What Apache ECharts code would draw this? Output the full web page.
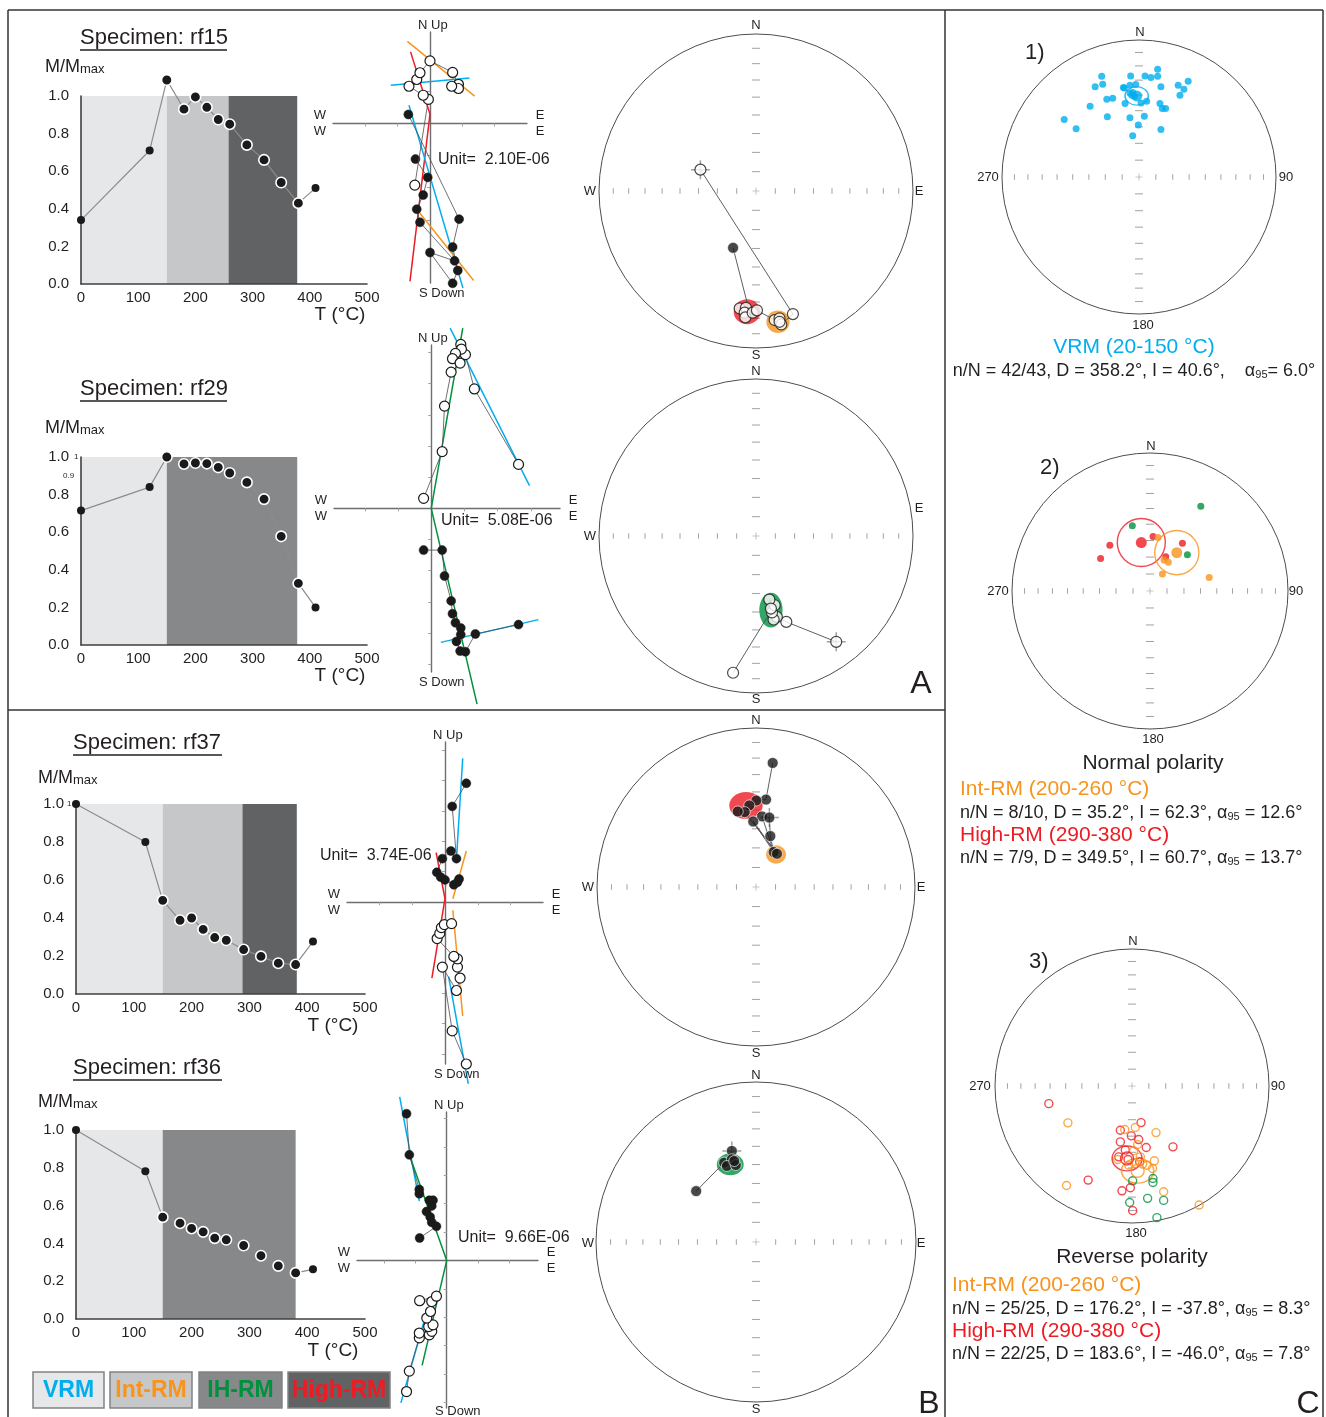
<!DOCTYPE html>
<html><head><meta charset="utf-8">
<script src="https://cdn.jsdelivr.net/npm/echarts@6/dist/echarts.min.js"></script>
<style>html,body{margin:0;padding:0;background:#fff}#c{width:1326px;height:1417px}</style>
</head><body><div id="c"></div><script>
// ===================== DATA =====================
// thermal demagnetization steps (°C)
const temps = [0,120,150,180,200,220,240,260,290,320,350,380,410];
const rf15_M = [0.34,0.71,1.085,0.93,0.995,0.94,0.875,0.85,0.74,0.66,0.54,0.43,0.51];
const rf29_M = [0.715,0.84,1.0,0.963,0.968,0.965,0.945,0.915,0.865,0.776,0.578,0.328,0.20];
const rf37_M = [1.0,0.80,0.493,0.388,0.40,0.34,0.297,0.283,0.234,0.198,0.162,0.155,0.276];
const rf36_M = [1.0,0.782,0.539,0.507,0.479,0.461,0.428,0.419,0.389,0.335,0.281,0.244,0.263];
const demagTicksT = [0,100,200,300,400,500];
const demagTicksM = [0,0.2,0.4,0.6,0.8,1.0];
// component temperature bands [from, to, component]
const rf15_bands = [[0,150,'VRM'],[150,258,'Int'],[258,378,'High']];
const rf29_bands = [[0,150,'VRM'],[150,378,'IH']];
const rf37_bands = [[0,150,'VRM'],[150,288,'Int'],[288,382,'High']];
const rf36_bands = [[0,150,'VRM'],[150,380,'IH']];

// Zijderveld diagrams (in tick units: E, N/Up)
const rf15_zFilled = [[-0.67,0.28],[0.90,-2.98],[0.70,-3.85],[0.86,-4.58],[0.70,-4.98],[0,-4.02],[0.76,-4.28],[-0.31,-3.08],[-0.41,-2.67],[-0.21,-2.23],[-0.07,-1.68],[-0.45,-1.11]];
const rf15_zOpen = [[-0.47,-1.92],[-0.05,0.75],[-0.21,0.88],[-0.65,1.16],[-0.41,1.37],[-0.31,1.58],[0,1.95],[0.70,1.59],[0.88,1.22],[0.88,1.09],[0.67,1.16]];
const rf15_zFits = [['orange',[[-0.70,2.56],[1.38,0.85]]],['blue',[[-1.21,1.19],[1.22,1.42]]],['red',[[-0.60,2.23],[0,0.29]]],['red',[[0,0.29],[-0.62,-4.92]]],['blue',[[-0.65,0.57],[1.02,-5.13]]],['orange',[[-0.41,-2.67],[1.35,-4.89]]]];
const rf15_zExt = {x:[-3.0,3.0], y:[-4.97,2.85]};

const rf29_zOpen = [[2.63,1.41],[1.30,3.83],[1.03,4.93],[0.89,5.26],[0.91,5.11],[0.73,4.97],[0.64,4.80],[0.87,4.66],[0.60,4.37],[0.40,3.28],[0.33,1.82],[-0.23,0.32]];
const rf29_zFilled = [[2.63,-3.73],[1.33,-4.03],[1.03,-4.60],[0.87,-4.58],[0.76,-4.27],[0.89,-4.05],[0.89,-3.84],[0.73,-3.67],[0.64,-3.38],[0.60,-2.97],[0.40,-2.17],[0.33,-1.34],[-0.23,-1.34]];
const rf29_zFits = [['green',[[0.95,5.78],[0,0]]],['green',[[0,0],[1.38,-6.28]]],['blue',[[0.57,5.78],[2.96,0.73]]],['blue',[[0.29,-4.30],[3.23,-3.57]]]];
const rf29_zExt = {x:[-2.93,3.88], y:[-5.25,5.24]};

const rf37_zFilled = [[0.65,3.91],[0.22,3.15],[0.35,1.43],[0.18,1.68],[-0.08,1.43],[-0.25,0.98],[-0.13,0.82],[0,0.73],[0.27,0.57],[0.38,0.65],[0.43,0.76]];
const rf37_zOpen = [[0.65,-5.33],[0.22,-4.24],[-0.08,-2.14],[0.35,-2.91],[0.46,-2.50],[0.38,-2.14],[0.38,-1.87],[0.27,-1.79],[-0.24,-1.20],[-0.16,-1.03],[-0.11,-0.84],[-0.02,-0.74],[0.20,-0.71]];
const rf37_zFits = [['blue',[[0.54,4.73],[0.35,1.41]]],['orange',[[0.65,1.68],[0.24,0.11]]],['red',[[-0.27,1.63],[0,0.11]]],['red',[[0,0.11],[-0.40,-2.50]]],['orange',[[0.24,-0.27],[0.54,-3.75]]],['blue',[[0.11,-2.45],[0.71,-5.98]]]];
const rf37_zExt = {x:[-2.99,2.99], y:[-5.33,5.27]};

const rf36_zFilled = [[-1.29,5.17],[-1.20,3.72],[-0.88,2.50],[-0.88,2.35],[-0.56,2.12],[-0.44,2.12],[-0.48,1.92],[-0.65,1.72],[-0.53,1.53],[-0.48,1.34],[-0.33,1.20],[-0.87,0.79]];
const rf36_zOpen = [[-1.29,-4.62],[-1.20,-3.90],[-0.88,-2.73],[-0.88,-2.56],[-0.56,-2.62],[-0.48,-2.50],[-0.58,-2.33],[-0.44,-2.27],[-0.64,-2.03],[-0.52,-1.80],[-0.48,-1.45],[-0.87,-1.42],[-0.33,-1.26]];
const rf36_zFits = [['blue',[[-1.51,5.76],[-0.88,2.09]]],['green',[[-1.20,3.72],[0,0]]],['green',[[0,0],[-0.79,-3.70]]],['blue',[[-0.73,-2.15],[-1.47,-5.02]]]];
const rf36_zExt = {x:[-2.88,2.93], y:[-5.2,5.23]};
const zTicksX = [-3,-2,-1,1,2,3];
const zTicksY = [-5,-4,-3,-2,-1,1,2,3,4,5];

// equal-area stereonet tick radii (10° inclination steps), projected unit-circle coordinates
const netTicks = [0.123,0.246,0.366,0.484,0.598,0.707,0.811,0.909];

// specimen stereonets (projected x=E, y=N)
const rf15_netOpen = [[-0.354,0.136],[0.235,-0.784],[-0.104,-0.748],[-0.064,-0.744],[-0.072,-0.775],[-0.068,-0.805],[-0.021,-0.775],[0.006,-0.760],[0.119,-0.822],[0.150,-0.811],[0.161,-0.850],[0.150,-0.833]];
const rf15_netFilled = [[-0.146,-0.362]];
const rf15_netPath = [[-0.354,0.136],[0.235,-0.784],[0.161,-0.850],[0.119,-0.822],[0.006,-0.760],[-0.021,-0.775],[-0.068,-0.805],[-0.072,-0.775],[-0.104,-0.748],[-0.064,-0.744],[-0.047,-0.748],[-0.146,-0.362]];
const rf15_netEll = [['red',[-0.057,-0.769],0.085,0.079],['orange',[0.140,-0.833],0.074,0.072]];
const rf15_netNRM = [[-0.354,0.136]];

const rf29_netOpen = [[0.511,-0.674],[0.193,-0.547],[0.133,-0.515],[0.112,-0.532],[0.102,-0.487],[0.119,-0.441],[0.085,-0.405],[0.095,-0.462],[-0.146,-0.871]];
const rf29_netFilled = [];
const rf29_netPath = [[0.511,-0.674],[0.193,-0.547],[0.133,-0.515],[0.112,-0.532],[0.102,-0.487],[0.119,-0.441],[0.085,-0.405],[0.095,-0.462],[0.07,-0.52],[-0.146,-0.871]];
const rf29_netEll = [['green',[0.095,-0.472],0.074,0.111]];
const rf29_netNRM = [[0.511,-0.674]];

const rf37_netOpen = [];
const rf37_netFilled = [[0.105,0.780],[0.063,0.550],[0.002,0.544],[-0.042,0.513],[-0.071,0.471],[-0.115,0.475],[0.038,0.444],[0.084,0.437],[-0.017,0.412],[0.090,0.320],[0.111,0.220],[0.132,0.209]];
const rf37_netPath = [[0.105,0.780],[0.063,0.550],[0.002,0.544],[-0.042,0.513],[-0.115,0.475],[-0.071,0.471],[0.132,0.209],[-0.017,0.412],[0.111,0.220],[0.038,0.444],[0.084,0.437],[0.090,0.320],[0.111,0.220]];
const rf37_netEll = [['red',[-0.063,0.513],0.105,0.084],['orange',[0.126,0.205],0.063,0.058]];
const rf37_netNRM = [[0.084,0.437]];

const rf36_netOpen = [];
const rf36_netFilled = [[-0.151,0.569],[-0.199,0.496],[-0.151,0.517],[-0.182,0.475],[-0.126,0.481],[-0.136,0.506],[-0.374,0.318]];
const rf36_netPath = [[-0.374,0.318],[-0.199,0.496],[-0.151,0.569]];
const rf36_netEll = [['green',[-0.161,0.485],0.084,0.068]];
const rf36_netNRM = [[-0.151,0.569]];

// site-level stereonets
const c1_VRM = [[-0.272,0.735],[-0.320,0.658],[-0.265,0.677],[-0.546,0.420],[-0.459,0.352],[-0.357,0.517],[-0.235,0.568],[-0.192,0.575],[-0.231,0.439],[-0.102,0.536],[-0.107,0.650],[-0.066,0.670],[-0.024,0.675],[-0.061,0.738],[0.044,0.738],[0.087,0.726],[0.136,0.735],[0.136,0.786],[0.160,0.658],[0.286,0.670],[0.328,0.641],[0.359,0.699],[0.299,0.597],[0.153,0.536],[0.170,0.500],[0.194,0.500],[0.056,0.553],[0.015,0.541],[0.039,0.444],[-0.066,0.432],[-0.005,0.379],[-0.046,0.301],[0.160,0.347],[-0.053,0.597],[-0.066,0.614],[-0.034,0.590],[-0.114,0.653],[-0.046,0.617]];
const c1_mean = [['blue',[-0.017,0.592],0.085,0.067]];

const c2_green = [[0.368,0.615],[-0.128,0.472],[0.271,0.262]];
const c2_red = [[-0.291,0.332],[-0.358,0.235],[0.022,0.395],[0.235,0.346],[0.114,0.249]];
const c2_orange = [[0.058,0.387],[0.102,0.225],[0.133,0.208],[0.090,0.123],[0.429,0.097]];
const c2_mean = [['red',[-0.063,0.351],0.174,0.174],['orange',[0.194,0.278],0.160,0.160]];

const c3_red = [[-0.607,-0.129],[0.066,-0.267],[-0.085,-0.323],[-0.005,-0.364],[-0.085,-0.408],[0.049,-0.391],[0.104,-0.449],[0.299,-0.444],[-0.049,-0.468],[-0.029,-0.536],[-0.320,-0.687],[-0.073,-0.765],[-0.012,-0.743],[0.005,-0.910],[-0.097,-0.517],[0.056,-0.553]];
const c3_orange = [[-0.468,-0.269],[-0.053,-0.318],[0.024,-0.303],[0.175,-0.340],[0.041,-0.427],[0.012,-0.473],[-0.104,-0.536],[0.061,-0.517],[0.163,-0.546],[-0.024,-0.578],[0.109,-0.578],[0.150,-0.602],[-0.478,-0.726],[0.231,-0.772],[0.490,-0.869],[0.078,-0.570],[0.019,-0.566]];
const c3_green = [[0.005,-0.692],[0.153,-0.675],[0.153,-0.704],[0.114,-0.820],[0.231,-0.835],[-0.017,-0.850],[0.182,-0.961]];
const c3_mean = [['red',[-0.036,-0.529],0.109,0.091],['orange',[0.041,-0.619],0.118,0.090]];

// ===================== STYLE / BUILD =====================
const FF = "'Liberation Sans', Arial, Helvetica, sans-serif";
const COL = {blue:'#00aeef', orange:'#f7941d', red:'#ed1c24', green:'#00913f'};
const TXT = '#231f20';
const BAND = {VRM:'#e6e7e8', Int:'#c6c7c8', IH:'#87888a', High:'#616264'};
const PLUS = 'path://M0,4.6h10v0.8h-10zM4.6,0h0.8v10h-0.8z';

const grids=[], xAxes=[], yAxes=[], series=[], graphics=[];
function addGrid(l,t,w,h,xa,ya){
  const i=grids.length;
  grids.push({left:l, top:t, width:w, height:h, containLabel:false});
  xa.gridIndex=i; ya.gridIndex=i; xAxes.push(xa); yAxes.push(ya); return i;
}
function S(i,o){ o.xAxisIndex=i; o.yAxisIndex=i; o.silent=true; o.animation=false; series.push(o); }
function txt(x,y,text,size,o){
  o=o||{};
  const st={text:text, x:x, y:y, font:(o.weight||'normal')+' '+size+'px '+FF, fill:o.color||TXT,
    align:o.align||'left', textAlign:o.align||'left', verticalAlign:'middle', textVerticalAlign:'middle'};
  if(o.rich) st.rich=o.rich;
  graphics.push({type:'text', z:100, silent:true, style:st});
}
function hline(x1,y1,x2,y2,w,c){
  graphics.push({type:'line', z:100, silent:true, shape:{x1:x1,y1:y1,x2:x2,y2:y2}, style:{stroke:c||'#333', lineWidth:w||1}});
}
const subRich = (big, small) => ({m:{font:big+'px '+FF, fill:TXT}, s:{font:small+'px '+FF, fill:TXT, verticalAlign:'bottom', padding:[0,0,0,0]}});

// ---------- demag plot ----------
function demag(l,t,w,h,M,bands){
  const axisBase = {type:'value', z:3, splitLine:{show:false}, axisTick:{show:false},
    axisLine:{show:true, lineStyle:{color:'#404041', width:1.6}}};
  const i = addGrid(l,t,w,h,
    Object.assign({}, axisBase, {min:demagTicksT[0], max:demagTicksT[demagTicksT.length-1], interval:100,
      axisLabel:{color:TXT, fontSize:15, fontFamily:FF, margin:6}}),
    Object.assign({}, axisBase, {min:demagTicksM[0], max:demagTicksM[demagTicksM.length-1], interval:0.2,
      axisLabel:{color:TXT, fontSize:15, fontFamily:FF, margin:12, formatter:v=>v.toFixed(1)}}));
  S(i,{type:'line', z:1, data:[[0,0]], symbol:'none', lineStyle:{opacity:0},
    markArea:{silent:true, data:bands.map(b=>[{xAxis:b[0], yAxis:0, itemStyle:{color:BAND[b[2]], opacity:1}},{xAxis:b[1], yAxis:1}])}});
  S(i,{type:'line', z:5, clip:false, symbol:'circle', symbolSize:8, lineStyle:{color:'#8c8c8c', width:1.2},
    itemStyle:{color:'#1a1a1a'},
    data: temps.map((tt,k)=>({value:[tt,M[k]], symbolSize:(tt>=150&&tt<=380)?10.5:8,
      itemStyle:(tt>=150&&tt<=380)?{color:'#1a1a1a',borderColor:'#fff',borderWidth:1.6}:{color:'#1a1a1a',borderWidth:0}}))});
}

// ---------- Zijderveld ----------
function zijd(l,r,t,b,ext,filled,open,fits){
  const ax = (mn,mx,tk)=>({type:'value', min:mn, max:mx, z:2, splitLine:{show:false}, axisLabel:{show:false},
    axisLine:{show:true, onZero:true, lineStyle:{color:'#6d6e71', width:1.4}},
    axisTick:{show:true, length:3, lineStyle:{color:'#a0a0a0'}, customValues:tk.filter(v=>v>mn&&v<mx)}});
  const i = addGrid(l,t,r-l,b-t, ax(ext.x[0],ext.x[1],zTicksX), ax(ext.y[0],ext.y[1],zTicksY));
  fits.forEach(f=>S(i,{type:'line', z:4, clip:false, symbol:'none', data:f[1], lineStyle:{color:COL[f[0]], width:1.5}}));
  S(i,{type:'line', z:5, clip:false, data:filled, symbol:'circle', symbolSize:9, lineStyle:{color:'#4d4d4f', width:0.8},
    itemStyle:{color:'#1a1a1a', borderColor:'#1a1a1a', borderWidth:0.5}});
  S(i,{type:'line', z:6, clip:false, data:open, symbol:'circle', symbolSize:10, lineStyle:{color:'#4d4d4f', width:0.8},
    itemStyle:{color:'#ffffff', borderColor:'#1a1a1a', borderWidth:1.2}});
  return i;
}
function zLabels(ax, ay, l, r, top, bot, unitX, unitY, unit){
  txt(ax-12, top-7, 'N Up', 13);
  txt(ax-11, bot+10, 'S Down', 13);
  txt(l-13, ay-8, 'W', 13, {align:'center'}); txt(l-13, ay+8, 'W', 13, {align:'center'});
  txt(r+13, ay-8, 'E', 13, {align:'center'}); txt(r+13, ay+8, 'E', 13, {align:'center'});
  txt(unitX, unitY, 'Unit=  '+unit, 16);
}

// ---------- stereonet ----------
function net(cx,cy,R,lab,o){
  o=o||{};
  const ax = {type:'value', min:-1, max:1, show:false};
  const i = addGrid(cx-R, cy-R, 2*R, 2*R, Object.assign({},ax), Object.assign({},ax));
  graphics.push({type:'circle', z:1, silent:true, shape:{cx:cx, cy:cy, r:R}, style:{fill:'none', stroke:'#4d4d4f', lineWidth:1}});
  const ew=[], ns=[];
  netTicks.forEach(r=>{ ew.push([r,0],[-r,0]); ns.push([0,r],[0,-r]); });
  S(i,{type:'scatter', z:2, symbol:'rect', symbolSize:[1,5.5], itemStyle:{color:'#8a8a8a'}, data:ew});
  S(i,{type:'scatter', z:2, symbol:'rect', symbolSize:[8,1], itemStyle:{color:'#8a8a8a'}, data:ns});
  S(i,{type:'scatter', z:2, symbol:PLUS, symbolSize:7, itemStyle:{color:'#7a7a7a'}, data:[[0,0]]});
  const fs = o.fs||13;
  lab.forEach(L=>txt(L[0], L[1], L[2], fs, {align:'center'}));
  return i;
}
function ellipses(i,R,list,fill){
  list.forEach(e=>S(i,{type:'scatter', z:3, symbol:'circle', symbolSize:[2*e[2]*R, 2*e[3]*R], data:[e[1]],
    itemStyle: fill?{color:COL[e[0]]}:{color:'rgba(0,0,0,0)', borderColor:COL[e[0]], borderWidth:1.4}}));
}
function specNet(cx,cy,R,lab,open,filled,path,ell,nrm){
  const i = net(cx,cy,R,lab);
  ellipses(i,R,ell,true);
  S(i,{type:'scatter', z:4, symbol:PLUS, symbolSize:19, itemStyle:{color:'#8a8a8a'}, data:nrm});
  S(i,{type:'line', z:5, symbol:'none', data:path, lineStyle:{color:'#4d4d4f', width:0.9}});
  S(i,{type:'scatter', z:6, symbol:'circle', symbolSize:11, data:filled, itemStyle:{color:'#1a1a1a', borderColor:'#ffffff', borderWidth:0.8}});
  S(i,{type:'scatter', z:7, symbol:'circle', symbolSize:11, data:open, itemStyle:{color:'#ffffff', borderColor:'#1a1a1a', borderWidth:1.2}});
}

// ===================== LAYOUT =====================
demag(81,96,286,188,rf15_M,rf15_bands);
demag(81,457,286,188,rf29_M,rf29_bands);
demag(76,804,289,190,rf37_M,rf37_bands);
demag(76,1130,289,189,rf36_M,rf36_bands);
[[80,38,227,'rf15',45,67,340,315],[80,389,227,'rf29',45,428,340,676],[73,743,222,'rf37',38,778,333,1026],[73,1068,222,'rf36',38,1102,333,1351]].forEach(p=>{
  txt(p[0], p[1], 'Specimen: '+p[3], 22);
  hline(p[0], p[1]+12, p[2], p[1]+12, 1.3, '#231f20');
  txt(p[4], p[5], '{m|M/M}{s|max}', 18, {rich:subRich(18,13)});
  txt(p[6], p[7], 'T (°C)', 19, {align:'center'});
});
txt(74,457,'1',8); txt(63,476,'0.9',8); txt(67,804,'1',8);

zijd(333,527,32,283,rf15_zExt,rf15_zFilled,rf15_zOpen,rf15_zFits);
zLabels(430,123,333,527,32,283,438,160,'2.10E-06');
zijd(334,560,345,672,rf29_zExt,rf29_zFilled,rf29_zOpen,rf29_zFits);
zLabels(430,508,334,560,345,672,441,521,'5.08E-06');
zijd(347,543,742,1064,rf37_zExt,rf37_zFilled,rf37_zOpen,rf37_zFits);
zLabels(445,902,347,543,742,1064,320,856,'3.74E-06');
zijd(357,538,1112,1408,rf36_zExt,rf36_zFilled,rf36_zOpen,rf36_zFits);
zLabels(446,1260,357,538,1112,1401,458,1238,'9.66E-06');

specNet(756,191,157,[[756,25,'N'],[756,355,'S'],[590,191,'W'],[919,191,'E']],rf15_netOpen,rf15_netFilled,rf15_netPath,rf15_netEll,rf15_netNRM);
specNet(756,536,157,[[756,371,'N'],[756,699,'S'],[590,536,'W'],[919,508,'E']],rf29_netOpen,rf29_netFilled,rf29_netPath,rf29_netEll,rf29_netNRM);
specNet(756,887,159,[[756,720,'N'],[756,1053,'S'],[588,887,'W'],[921,887,'E']],rf37_netOpen,rf37_netFilled,rf37_netPath,rf37_netEll,rf37_netNRM);
specNet(756,1242,160,[[756,1075,'N'],[756,1409,'S'],[588,1243,'W'],[921,1243,'E']],rf36_netOpen,rf36_netFilled,rf36_netPath,rf36_netEll,rf36_netNRM);

(function(){
  const R1=137, i1 = net(1139,177,R1,[[1140,32,'N'],[1143,325,'180'],[988,177,'270'],[1286,177,'90']]);
  S(i1,{type:'scatter', z:5, symbol:'circle', symbolSize:7, data:c1_VRM, itemStyle:{color:COL.blue}});
  ellipses(i1,R1,c1_mean,false);
  S(i1,{type:'scatter', z:6, symbol:'circle', symbolSize:11, data:c1_mean.map(e=>e[1]), itemStyle:{color:COL.blue}});
  txt(1025,53,'1)',22);

  const R2=138, i2 = net(1150,591,R2,[[1151,446,'N'],[1153,739,'180'],[998,591,'270'],[1296,591,'90']]);
  S(i2,{type:'scatter', z:5, symbol:'circle', symbolSize:7, data:c2_green, itemStyle:{color:COL.green}});
  S(i2,{type:'scatter', z:5, symbol:'circle', symbolSize:7, data:c2_red, itemStyle:{color:COL.red}});
  S(i2,{type:'scatter', z:5, symbol:'circle', symbolSize:7, data:c2_orange, itemStyle:{color:COL.orange}});
  ellipses(i2,R2,c2_mean,false);
  c2_mean.forEach(e=>S(i2,{type:'scatter', z:6, symbol:'circle', symbolSize:11, data:[e[1]], itemStyle:{color:COL[e[0]]}}));
  txt(1040,468,'2)',22);

  const R3=137, i3 = net(1132,1086,R3,[[1133,941,'N'],[1136,1233,'180'],[980,1086,'270'],[1278,1086,'90']]);
  const hollow = c => ({color:'rgba(0,0,0,0)', borderColor:COL[c], borderWidth:1.4});
  S(i3,{type:'scatter', z:5, symbol:'circle', symbolSize:8, data:c3_green, itemStyle:hollow('green')});
  S(i3,{type:'scatter', z:5, symbol:'circle', symbolSize:8, data:c3_red, itemStyle:hollow('red')});
  S(i3,{type:'scatter', z:5, symbol:'circle', symbolSize:8, data:c3_orange, itemStyle:hollow('orange')});
  ellipses(i3,R3,c3_mean,false);
  c3_mean.forEach(e=>S(i3,{type:'scatter', z:6, symbol:'circle', symbolSize:13, data:[e[1]], itemStyle:hollow(e[0])}));
  txt(1029,962,'3)',22);
})();

const aRich = {g:{font:'18px '+FF, fill:TXT}, s:{font:'11px '+FF, fill:TXT, verticalAlign:'bottom'}};
txt(1134,347,'VRM (20-150 °C)',21,{align:'center', color:COL.blue});
txt(1134,371,'n/N = 42/43, D = 358.2°, I = 40.6°,    {g|α}{s|95}= 6.0°',18,{align:'center', rich:aRich});
txt(1153,763,'Normal polarity',21,{align:'center'});
txt(960,789,'Int-RM (200-260 °C)',21,{color:COL.orange});
txt(960,813,'n/N = 8/10, D = 35.2°, I = 62.3°, {g|α}{s|95} = 12.6°',18,{rich:aRich});
txt(960,835,'High-RM (290-380 °C)',21,{color:COL.red});
txt(960,858,'n/N = 7/9, D = 349.5°, I = 60.7°, {g|α}{s|95} = 13.7°',18,{rich:aRich});
txt(1132,1257,'Reverse polarity',21,{align:'center'});
txt(952,1285,'Int-RM (200-260 °C)',21,{color:COL.orange});
txt(952,1309,'n/N = 25/25, D = 176.2°, I = -37.8°, {g|α}{s|95} = 8.3°',18,{rich:aRich});
txt(952,1331,'High-RM (290-380 °C)',21,{color:COL.red});
txt(952,1354,'n/N = 22/25, D = 183.6°, I = -46.0°, {g|α}{s|95} = 7.8°',18,{rich:aRich});

[[33,104,'VRM','VRM',COL.blue],[110,192,'Int','Int-RM',COL.orange],[199,282,'IH','IH-RM',COL.green],[288,390,'High','High-RM',COL.red]].forEach(b=>{
  graphics.push({type:'rect', z:50, silent:true, shape:{x:b[0], y:1372, width:b[1]-b[0], height:36}, style:{fill:BAND[b[2]], stroke:'#808285', lineWidth:1.5}});
  txt((b[0]+b[1])/2, 1391, b[3], 23, {align:'center', weight:'bold', color:b[4]});
});

hline(8,10,1323,10,1.5); hline(8,10,8,1417,1.5); hline(1323,10,1323,1417,1.5);
hline(945,10,945,1417,1.5); hline(8,710,945,710,1.5);
txt(921,684,'A',32,{align:'center'}); txt(929,1404,'B',32,{align:'center'}); txt(1308,1404,'C',32,{align:'center'});

const chart = echarts.init(document.getElementById('c'), null, {renderer:'canvas', width:1326, height:1417});
chart.setOption({animation:false, backgroundColor:'#ffffff', grid:grids, xAxis:xAxes, yAxis:yAxes, series:series, graphic:{elements:graphics}});
</script></body></html>
